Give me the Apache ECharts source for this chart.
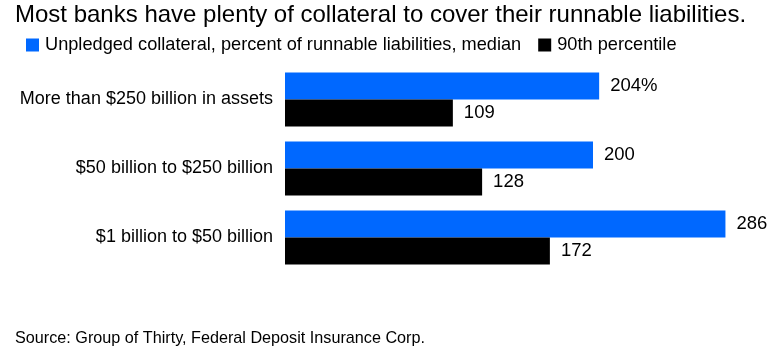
<!DOCTYPE html>
<html>
<head>
<meta charset="utf-8">
<script src="https://cdn.jsdelivr.net/npm/echarts@6/dist/echarts.min.js"></script>
<style>
    html, body { margin: 0; padding: 0; background: #fff; }
    #chart { width: 773px; height: 353px; }
</style>
</head>
<body>
<div id="chart"></div>
<script>
    // 数据
    var categories = ['More than $250 billion in assets', '$50 billion to $250 billion', '$1 billion to $50 billion'];
    var medianValues = [204, 200, 286];
    var p90Values = [109, 128, 172];
    var seriesNames = ['Unpledged collateral, percent of runnable liabilities, median', '90th percentile'];

    var font = '"Liberation Sans", Arial, sans-serif';
    var chart = echarts.init(document.getElementById('chart'));

    var option = {
        animation: false,
        textStyle: { fontFamily: font },
        title: [
            {
                text: 'Most banks have plenty of collateral to cover their runnable liabilities.',
                left: 15,
                top: 3,
                padding: 0,
                textStyle: { fontFamily: font, fontSize: 24, fontWeight: 'normal', color: '#000' }
            },
            {
                text: 'Source: Group of Thirty, Federal Deposit Insurance Corp.',
                left: 15,
                top: 331,
                padding: 0,
                textStyle: { fontFamily: font, fontSize: 16.2, fontWeight: 'normal', color: '#000' }
            }
        ],
        legend: {
            left: 26,
            top: 36,
            padding: 0,
            icon: 'rect',
            itemWidth: 13,
            itemHeight: 13,
            itemGap: 17,
            selectedMode: false,
            textStyle: { fontFamily: font, fontSize: 18.2, color: '#000', padding: [0, 0, 0, 1] },
            data: seriesNames
        },
        color: ['#0068ff', '#000000'],
        grid: {
            left: 285,
            right: 26,
            top: 65,
            bottom: 81,
            containLabel: false
        },
        xAxis: {
            type: 'value',
            min: 0,
            max: 300,
            show: false
        },
        yAxis: {
            type: 'category',
            inverse: true,
            data: categories,
            axisLine: { show: false },
            axisTick: { show: false },
            splitLine: { show: false },
            axisLabel: {
                color: '#000',
                fontFamily: font,
                fontSize: 18,
                margin: 12
            }
        },
        series: [
            {
                name: seriesNames[0],
                type: 'bar',
                data: medianValues,
                barWidth: 27,
                barGap: '0%',
                label: {
                    show: true,
                    position: 'right',
                    distance: 11,
                    color: '#000',
                    fontFamily: font,
                    fontSize: 18.5,
                    formatter: function (p) {
                        return p.dataIndex === 0 ? p.value + '%' : p.value;
                    }
                }
            },
            {
                name: seriesNames[1],
                type: 'bar',
                data: p90Values,
                barWidth: 27,
                barGap: '0%',
                label: {
                    show: true,
                    position: 'right',
                    distance: 11,
                    color: '#000',
                    fontFamily: font,
                    fontSize: 18.5
                }
            }
        ]
    };

    chart.setOption(option);
</script>
</body>
</html>
